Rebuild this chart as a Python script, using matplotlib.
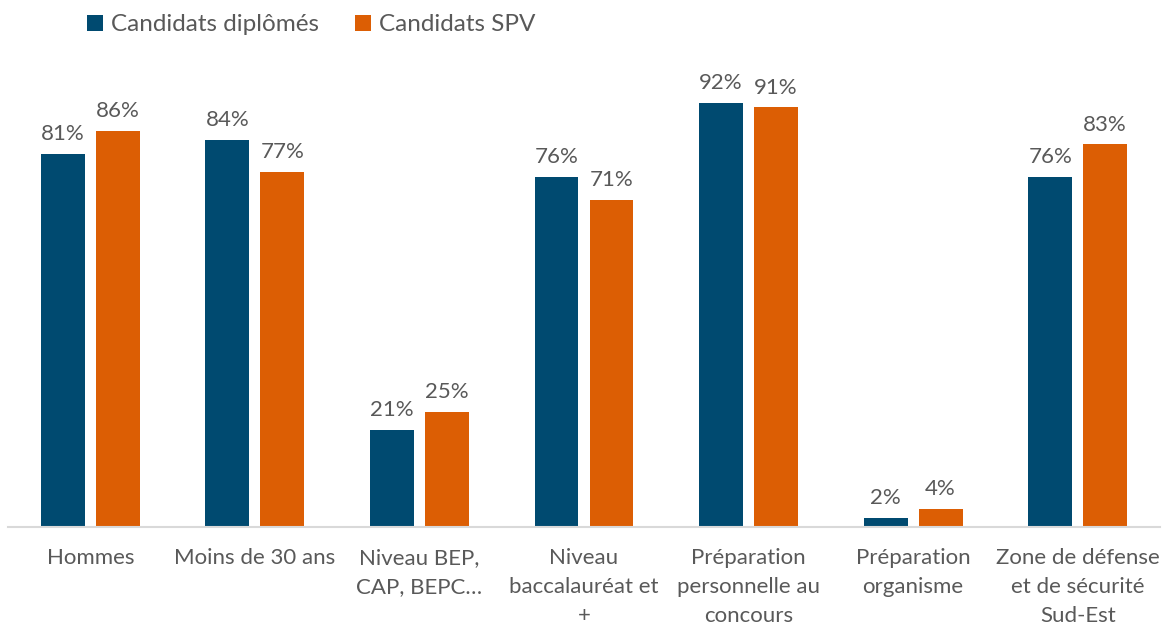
import numpy as np
import matplotlib
matplotlib.use('Agg')
import matplotlib.pyplot as plt

plt.rcParams['font.family'] = ['Lato', 'DejaVu Sans']

categories = ["Hommes", "Moins de 30 ans", "Niveau BEP,\nCAP, BEPC…", "Niveau\nbaccalauréat et\n+",
              "Préparation\npersonnelle au\nconcours", "Préparation\norganisme",
              "Zone de défense\net de sécurité\nSud-Est"]
diplomes = [81, 84, 21, 76, 92, 2, 76]
spv = [86, 77, 25, 71, 91, 4, 83]

c_dark = '#004A70'
c_orange = '#DC5E04'
txt = '#595959'

fig = plt.figure(figsize=(11.63, 6.27), dpi=100)
ax = fig.add_axes([8/1163, 100/627, 1152/1163, 461/627])

x = np.arange(len(categories))
w = 0.267
off = 0.167
b1 = ax.bar(x - off, diplomes, w, color=c_dark, label='Candidats diplômés')
b2 = ax.bar(x + off, spv, w, color=c_orange, label='Candidats SPV')

for bars, vals in ((b1, diplomes), (b2, spv)):
    for b, v in zip(bars, vals):
        ax.annotate(f"{v}%", (b.get_x() + b.get_width()/2, v), xytext=(0, 7),
                    textcoords='offset points', ha='center', va='bottom',
                    fontsize=16, color=txt)

ax.set_xlim(-0.5, 6.5)
ax.set_ylim(0, 100)
ax.set_yticks([])
ax.set_xticks(x)
ax.set_xticklabels(categories, fontsize=16, color=txt, linespacing=1.57)
ax.tick_params(axis='x', length=0, pad=15)
for s in ['top', 'right', 'left']:
    ax.spines[s].set_visible(False)
ax.spines['bottom'].set_color('#D9D9D9')
ax.spines['bottom'].set_linewidth(1.5)

fig.legend(loc='upper left', bbox_to_anchor=(65/1163, 1.012), ncol=2, frameon=False,
           fontsize=17.5, handlelength=0.65, handleheight=0.65, handletextpad=0.35,
           columnspacing=1.47, labelcolor=txt)

fig.savefig('out.png', dpi=100)
